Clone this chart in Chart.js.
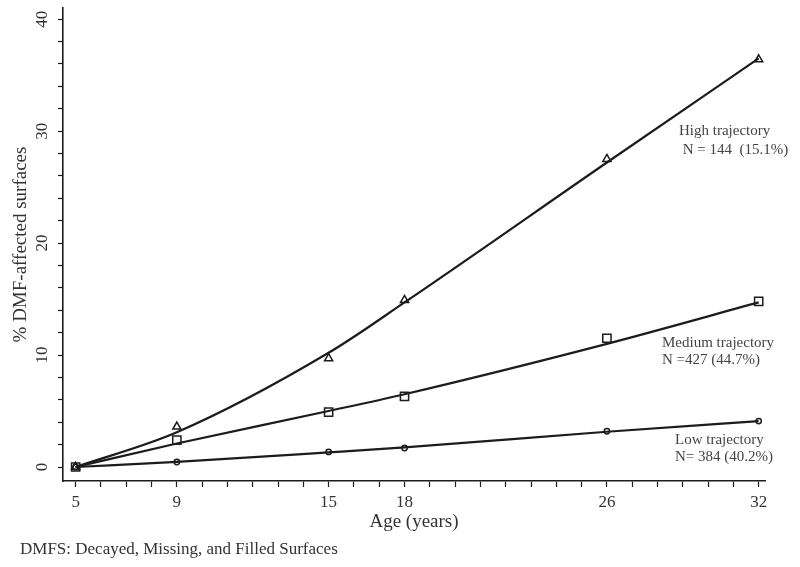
<!DOCTYPE html>
<html><head><meta charset="utf-8">
<script src="https://cdn.jsdelivr.net/npm/chart.js@4/dist/chart.umd.min.js"></script>
<style>html,body{margin:0;padding:0;background:#fff}</style>
</head><body>
<canvas id="c" width="800" height="567"></canvas>
<script>
// ---- data ----
const ages = [5, 9, 15, 18, 26, 32];
const highObserved = [0, 3.6, 9.7, 14.9, 27.5, 36.4];
const mediumObserved = [0, 2.4, 4.9, 6.3, 11.5, 14.8];
const lowObserved = [0, 0.45, 1.35, 1.7, 3.2, 4.1];
const highFitted = [0, 3.1, 10.2, 14.7, 27.2, 36.5];
const mediumFitted = [0, 2.1, 5.0, 6.5, 11.0, 14.7];
const lowFitted = [0, 0.45, 1.3, 1.75, 3.15, 4.1];
const xTickLabels = [5, 9, 15, 18, 26, 32];
const yTickLabels = [0, 10, 20, 30, 40];
const groupLabels = [
  ['High trajectory', ' N = 144  (15.1%)'],
  ['Medium trajectory', 'N =427 (44.7%)'],
  ['Low trajectory', 'N= 384 (40.2%)']
];
const footnote = 'DMFS: Decayed, Missing, and Filled Surfaces';

const SERIF = '"Liberation Serif", "Times New Roman", serif';
const INK = '#1c1c1c';
const pts = (ys) => ages.map((a, i) => ({x: a, y: ys[i]}));

const lineDs = (ys) => ({
  type: 'line', data: pts(ys), borderColor: INK, borderWidth: 2.2,
  pointRadius: 0, fill: false, cubicInterpolationMode: 'monotone', order: 2
});
const markDs = (ys, style, r) => ({
  type: 'line', data: pts(ys), showLine: false, pointStyle: style, pointRadius: r,
  pointBorderColor: INK, pointBackgroundColor: 'rgba(255,255,255,0)', pointBorderWidth: 1.5, order: 1
});

const textPlugin = {
  id: 'texts',
  afterDraw(chart) {
    const ctx = chart.ctx;
    ctx.save();
    ctx.fillStyle = '#444';
    ctx.textBaseline = 'middle';
    ctx.textAlign = 'left';
    ctx.font = '15px ' + SERIF;
    const pos = [[679, 131, 150], [662, 343, 360], [675, 440, 457]];
    groupLabels.forEach((g, i) => {
      ctx.fillText(g[0], pos[i][0], pos[i][1]);
      ctx.fillText(g[1], pos[i][0], pos[i][2]);
    });
    ctx.fillStyle = '#333';
    ctx.font = '17px ' + SERIF;
    ctx.fillText(footnote, 20, 550);
    ctx.restore();
  }
};

new Chart(document.getElementById('c'), {
  data: {
    datasets: [
      lineDs(highFitted), lineDs(mediumFitted), lineDs(lowFitted),
      markDs(highObserved, 'triangle', 4.7),
      markDs(mediumObserved, 'rect', 5.8),
      markDs(lowObserved, 'circle', 2.7)
    ]
  },
  options: {
    responsive: false, animation: false, devicePixelRatio: 1,
    layout: {padding: {left: 0, top: 8, right: 35, bottom: 30}},
    plugins: {legend: {display: false}, tooltip: {enabled: false}},
    scales: {
      x: {
        type: 'linear', min: 4.5, max: 32.25,
        afterBuildTicks(s) {
          const t = [];
          for (let v = xTickLabels[0]; v <= xTickLabels[xTickLabels.length - 1]; v++) t.push({value: v});
          s.ticks = t;
        },
        afterFit(s) { s.height = 56; s.paddingLeft = 0; s.paddingRight = 0; },
        grid: {display: true, drawOnChartArea: false, drawTicks: true, tickLength: 6, tickColor: INK, tickWidth: 1.2},
        border: {display: true, color: INK, width: 1.6},
        ticks: {
          autoSkip: false, maxRotation: 0, minRotation: 0, padding: 5, color: '#333',
          font: {family: SERIF, size: 17},
          callback: (v) => xTickLabels.includes(v) ? String(v) : ''
        },
        title: {display: true, text: 'Age (years)', color: '#333', font: {family: SERIF, size: 19}, padding: {top: 0, bottom: 4}}
      },
      y: {
        type: 'linear', min: -1.25, max: 41,
        afterBuildTicks(s) {
          const t = [];
          for (let v = yTickLabels[0]; v <= yTickLabels[yTickLabels.length - 1]; v += 2) t.push({value: v});
          s.ticks = t;
        },
        afterFit(s) { s.width = 63; s.paddingTop = 0; s.paddingBottom = 0; },
        grid: {display: true, drawOnChartArea: false, drawTicks: true, tickLength: 5, tickColor: INK, tickWidth: 1.2},
        border: {display: true, color: INK, width: 1.6},
        ticks: {
          autoSkip: false, minRotation: 90, maxRotation: 90, crossAlign: 'center', padding: 7, color: '#333',
          font: {family: SERIF, size: 17},
          callback: (v) => yTickLabels.includes(v) ? String(v) : ''
        },
        title: {display: true, text: '% DMF-affected surfaces', color: '#333', font: {family: SERIF, size: 19}, padding: {top: 10, bottom: 0}}
      }
    }
  },
  plugins: [textPlugin]
});
</script>
</body></html>
